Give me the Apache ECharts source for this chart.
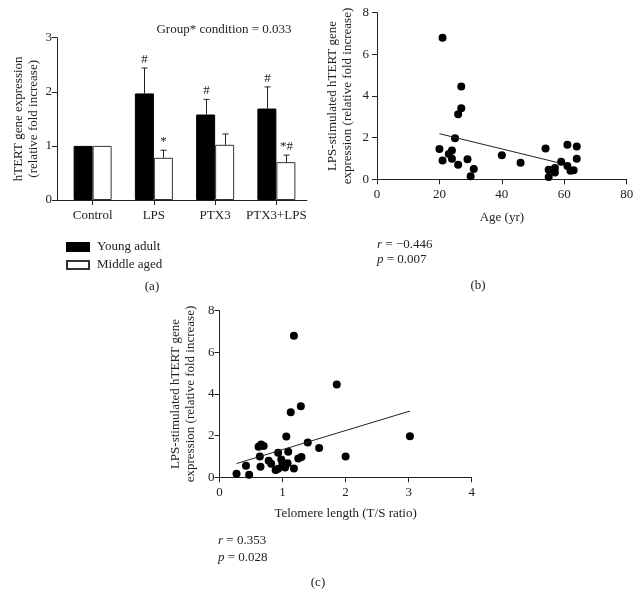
<!DOCTYPE html>
<html>
<head>
<meta charset="utf-8">
<script src="https://cdn.jsdelivr.net/npm/echarts@6/dist/echarts.min.js"></script>
<style>html,body{margin:0;padding:0;background:#fff;}#c{width:642px;height:610px;}</style>
</head>
<body>
<div id="c"></div>
<script>
// ---- Panel (a): bar chart ----
const categories = ['Control', 'LPS', 'PTX3', 'PTX3+LPS'];
const youngMean = [1.0, 1.97, 1.58, 1.69];
const youngErr = [0, 0.47, 0.28, 0.40];
const middleMean = [1.0, 0.78, 1.02, 0.70];
const middleErr = [0, 0.14, 0.20, 0.13];
const youngMarks = ['', '#', '#', '#'];
const middleMarks = ['', '*', '', '*#'];
const seriesNames = ['Young adult', 'Middle aged'];

// ---- Panel (b): age scatter ----
const ageX = [21, 27, 27, 26, 25, 20, 21, 23, 24, 24, 26, 29, 31, 30, 40, 46, 54, 55, 55, 57, 57, 59, 61, 61, 62, 63, 64, 64];
const ageY = [6.8, 4.46, 3.41, 3.12, 1.97, 1.45, 0.9, 1.21, 1.38, 0.99, 0.7, 0.96, 0.5, 0.15, 1.16, 0.79, 1.48, 0.46, 0.11, 0.54, 0.33, 0.84, 1.66, 0.64, 0.41, 0.43, 1.58, 0.99];
const ageFitX = [20, 57.7];
const ageFitY = [2.19, 0.81];

// ---- Panel (c): telomere scatter ----
const telX = [0.27, 0.47, 0.42, 0.62, 0.66, 0.70, 0.64, 0.65, 0.78, 0.82, 0.89, 0.93, 0.93, 0.98, 1.0, 1.04, 1.08, 1.09, 1.06, 1.18, 1.25, 1.30, 1.40, 1.58, 2.0, 3.02, 1.13, 1.29, 1.18, 1.86];
const telY = [0.17, 0.12, 0.56, 1.47, 1.57, 1.5, 1.0, 0.51, 0.8, 0.65, 0.35, 0.41, 1.18, 0.85, 0.68, 0.47, 0.68, 1.23, 1.96, 0.42, 0.9, 0.97, 1.67, 1.41, 1.0, 1.97, 3.12, 3.41, 6.8, 4.46];
const telFitX = [0.27, 3.02];
const telFitY = [0.66, 3.18];

const F = "'Liberation Serif', 'Times New Roman', serif";
const INK = '#222';
const BAR_W = 19;

const chart = echarts.init(document.getElementById('c'), null, {renderer: 'canvas'});

function errRenderer(marks, side) {
  return function (params, api) {
    const i = params.dataIndex;
    const m = api.value(1), e = api.value(2);
    const p0 = api.coord([api.value(0), m]);
    const p1 = api.coord([api.value(0), m + e]);
    const x = Math.round(p0[0] + side * BAR_W / 2) + 0.5;
    const children = [];
    if (e > 0) {
      children.push({type: 'line', shape: {x1: x, y1: p0[1], x2: x, y2: p1[1]}, style: {stroke: INK, lineWidth: 1}});
      children.push({type: 'line', shape: {x1: x - 3, y1: p1[1], x2: x + 3, y2: p1[1]}, style: {stroke: INK, lineWidth: 1}});
    }
    if (marks[i]) {
      children.push({type: 'text', style: {text: marks[i], x: x, y: p1[1] - 2, align: 'center', verticalAlign: 'bottom', fontSize: 13, fontFamily: F, fill: INK}});
    }
    return {type: 'group', children: children};
  };
}

const axisLine = {show: true, lineStyle: {color: INK, width: 1}};
const axisTick = {show: true, length: 5, lineStyle: {color: INK}};
const labelStyle = {color: INK, fontSize: 13, fontFamily: F};
const nameStyle = {color: INK, fontSize: 13, fontFamily: F, lineHeight: 15};

const option = {
  animation: false,
  backgroundColor: '#fff',
  grid: [
    {left: 57, top: 37.7, width: 250, height: 162.3},
    {left: 62, top: 37.7, width: 245, height: 162.3},
    {left: 377, top: 12.7, width: 249.7, height: 166.6},
    {left: 219.5, top: 310.7, width: 252.2, height: 166.6}
  ],
  xAxis: [
    {gridIndex: 0, type: 'value', min: 0, max: 1, axisLine: axisLine, axisTick: {show: false}, axisLabel: {show: false}, splitLine: {show: false}},
    {gridIndex: 1, type: 'category', data: categories, axisLine: {show: false}, axisTick: {show: true, alignWithLabel: true, length: 5, lineStyle: {color: INK}}, axisLabel: Object.assign({margin: 9, interval: 0, hideOverlap: false}, labelStyle), splitLine: {show: false}},
    {gridIndex: 2, type: 'value', min: 0, max: 80, interval: 20, axisLine: axisLine, axisTick: axisTick, axisLabel: Object.assign({margin: 9}, labelStyle), splitLine: {show: false},
      name: 'Age (yr)', nameLocation: 'middle', nameGap: 31, nameTextStyle: nameStyle},
    {gridIndex: 3, type: 'value', min: 0, max: 4, interval: 1, axisLine: axisLine, axisTick: axisTick, axisLabel: Object.assign({margin: 9}, labelStyle), splitLine: {show: false},
      name: 'Telomere length (T/S ratio)', nameLocation: 'middle', nameGap: 29, nameTextStyle: nameStyle}
  ],
  yAxis: [
    {gridIndex: 0, type: 'value', min: 0, max: 3, interval: 1, axisLine: axisLine, axisTick: axisTick, axisLabel: Object.assign({margin: 5}, labelStyle), splitLine: {show: false},
      name: 'hTERT gene expression\n(relative fold increase)', nameLocation: 'middle', nameRotate: 90, nameGap: 16, nameTextStyle: nameStyle},
    {gridIndex: 1, type: 'value', min: 0, max: 3, show: false},
    {gridIndex: 2, type: 'value', min: 0, max: 8, interval: 2, axisLine: axisLine, axisTick: axisTick, axisLabel: Object.assign({margin: 8}, labelStyle), splitLine: {show: false},
      name: 'LPS-stimulated hTERT gene\nexpression (relative fold increase)', nameLocation: 'middle', nameRotate: 90, nameGap: 22, nameTextStyle: nameStyle},
    {gridIndex: 3, type: 'value', min: 0, max: 8, interval: 2, axisLine: axisLine, axisTick: axisTick, axisLabel: Object.assign({margin: 5}, labelStyle), splitLine: {show: false},
      name: 'LPS-stimulated hTERT gene\nexpression (relative fold increase)', nameLocation: 'middle', nameRotate: 90, nameGap: 21, nameTextStyle: nameStyle}
  ],
  legend: {
    data: seriesNames, orient: 'vertical', left: 61, top: 235, itemWidth: 22, itemHeight: 8, itemGap: 4, icon: 'rect',
    textStyle: {color: INK, fontSize: 13, fontFamily: F, lineHeight: 14, padding: [0, 0, 0, 3]},
    selectedMode: false
  },
  series: [
    {name: seriesNames[0], type: 'bar', xAxisIndex: 1, yAxisIndex: 1, data: youngMean, barWidth: BAR_W, barGap: '0%',
      itemStyle: {color: '#000', borderColor: '#000', borderWidth: 1}},
    {name: seriesNames[1], type: 'bar', xAxisIndex: 1, yAxisIndex: 1, data: middleMean, barWidth: BAR_W, barGap: '0%',
      itemStyle: {color: '#fff', borderColor: '#333', borderWidth: 1}},
    {type: 'custom', xAxisIndex: 1, yAxisIndex: 1, z: 5, renderItem: errRenderer(youngMarks, -1),
      data: categories.map((c, i) => [i, youngMean[i], youngErr[i]])},
    {type: 'custom', xAxisIndex: 1, yAxisIndex: 1, z: 5, renderItem: errRenderer(middleMarks, 1),
      data: categories.map((c, i) => [i, middleMean[i], middleErr[i]])},
    {type: 'scatter', xAxisIndex: 2, yAxisIndex: 2, symbolSize: 8, itemStyle: {color: '#000', opacity: 1},
      data: ageX.map((x, i) => [x, ageY[i]])},
    {type: 'line', xAxisIndex: 2, yAxisIndex: 2, symbol: 'none', lineStyle: {color: INK, width: 1},
      data: ageFitX.map((x, i) => [x, ageFitY[i]])},
    {type: 'scatter', xAxisIndex: 3, yAxisIndex: 3, symbolSize: 8, itemStyle: {color: '#000', opacity: 1},
      data: telX.map((x, i) => [x, telY[i]])},
    {type: 'line', xAxisIndex: 3, yAxisIndex: 3, symbol: 'none', lineStyle: {color: INK, width: 1},
      data: telFitX.map((x, i) => [x, telFitY[i]])}
  ],
  graphic: [
    {type: 'text', x: 224, y: 29.5, style: {text: 'Group* condition = 0.033', align: 'center', verticalAlign: 'middle', fontSize: 13, fontFamily: F, fill: INK}},
    {type: 'text', x: 152, y: 287, style: {text: '(a)', align: 'center', verticalAlign: 'middle', fontSize: 13, fontFamily: F, fill: INK}},
    {type: 'text', x: 377, y: 244.5, style: {text: '{i|r} = −0.446', rich: {i: {fontStyle: 'italic', fontSize: 13, fontFamily: F, fill: INK}}, align: 'left', verticalAlign: 'middle', fontSize: 13, fontFamily: F, fill: INK}},
    {type: 'text', x: 377, y: 260, style: {text: '{i|p} = 0.007', rich: {i: {fontStyle: 'italic', fontSize: 13, fontFamily: F, fill: INK}}, align: 'left', verticalAlign: 'middle', fontSize: 13, fontFamily: F, fill: INK}},
    {type: 'text', x: 478, y: 286, style: {text: '(b)', align: 'center', verticalAlign: 'middle', fontSize: 13, fontFamily: F, fill: INK}},
    {type: 'text', x: 218, y: 541, style: {text: '{i|r} = 0.353', rich: {i: {fontStyle: 'italic', fontSize: 13, fontFamily: F, fill: INK}}, align: 'left', verticalAlign: 'middle', fontSize: 13, fontFamily: F, fill: INK}},
    {type: 'text', x: 218, y: 557.5, style: {text: '{i|p} = 0.028', rich: {i: {fontStyle: 'italic', fontSize: 13, fontFamily: F, fill: INK}}, align: 'left', verticalAlign: 'middle', fontSize: 13, fontFamily: F, fill: INK}},
    {type: 'text', x: 318, y: 583, style: {text: '(c)', align: 'center', verticalAlign: 'middle', fontSize: 13, fontFamily: F, fill: INK}}
  ]
};
chart.setOption(option);
</script>
</body>
</html>
